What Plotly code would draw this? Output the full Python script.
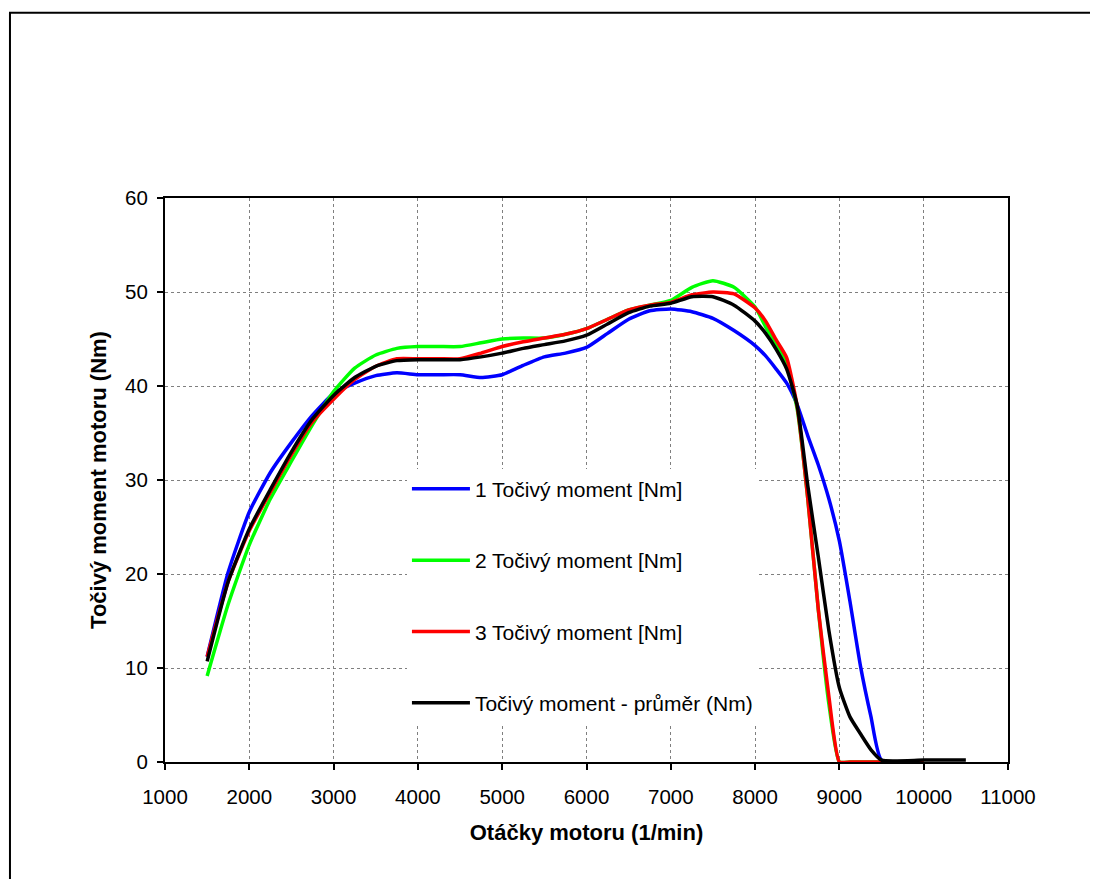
import plotly.graph_objects as go

rpm = [1500, 1750, 2000, 2250, 2500, 2750, 3000, 3250, 3500, 3750, 4000, 4250, 4500,
       4750, 5000, 5250, 5500, 5750, 6000, 6250, 6500, 6750, 7000, 7250, 7500, 7750,
       8000, 8125, 8250, 8375, 8500, 8625, 8750, 8875, 9000, 9125, 9250, 9375, 9500,
       10000, 10500]

torque_1 = [11.2, 20.2, 26.6, 30.8, 34.0, 36.9, 39.2, 40.3, 41.1, 41.4, 41.2, 41.2, 41.2,
            40.9, 41.2, 42.2, 43.1, 43.5, 44.1, 45.6, 47.1, 48.0, 48.2, 47.9, 47.2, 45.9,
            44.3, 43.2, 41.8, 40.3, 38.0, 34.7, 31.6, 28.0, 23.5, 17.1, 10.2, 4.8, 0.2,
            0.0, None]

torque_2 = [9.15, 16.8, 23.1, 28.0, 32.0, 35.9, 39.4, 41.9, 43.3, 44.0, 44.2, 44.2, 44.2,
            44.6, 45.0, 45.1, 45.1, 45.5, 46.1, 47.1, 48.1, 48.6, 49.1, 50.5, 51.2, 50.5,
            48.4, 46.3, 44.4, 42.3, 37.5, 28.0, 16.2, 6.2, 0.0, 0.0, 0.0, 0.0, 0.0,
            0.0, None]

torque_3 = [11.2, 19.2, 24.6, 28.7, 32.7, 36.2, 38.6, 40.7, 42.1, 42.9, 42.9, 42.9, 42.9,
            43.5, 44.2, 44.7, 45.1, 45.5, 46.1, 47.1, 48.1, 48.6, 48.9, 49.7, 50.0, 49.8,
            48.3, 46.9, 44.9, 43.0, 37.8, 28.0, 16.2, 7.0, 0.0, 0.0, 0.0, 0.0, 0.0,
            0.0, None]

torque_avg = [10.7, 19.2, 24.8, 29.0, 33.0, 36.5, 39.0, 40.9, 42.1, 42.7, 42.8, 42.8, 42.8,
              43.1, 43.5, 44.0, 44.4, 44.8, 45.4, 46.6, 47.8, 48.5, 48.8, 49.5, 49.5, 48.6,
              46.9, 45.6, 43.9, 41.8, 37.9, 29.4, 21.8, 14.0, 7.9, 4.8, 3.0, 1.3, 0.2,
              0.2, 0.2]

series_names = ["1 Točivý moment [Nm]", "2 Točivý moment [Nm]",
                "3 Točivý moment [Nm]", "Točivý moment - průměr (Nm)"]
series_colors = ["#0000FF", "#00FF00", "#FF0000", "#000000"]
series_values = [torque_1, torque_2, torque_3, torque_avg]

x_ticks = list(range(1000, 11001, 1000))
x_tick_labels = [str(v) for v in x_ticks]
y_ticks = list(range(0, 61, 10))
y_tick_labels = [str(v) for v in y_ticks]

FONT = "Liberation Sans, Arial, sans-serif"

fig = go.Figure()
for i, (name, col, vals) in enumerate(zip(series_names, series_colors, series_values)):
    fig.add_trace(go.Scatter(
        x=rpm, y=vals, mode="lines", name=name,
        line=dict(color=col, width=3.5, shape="spline", smoothing=0.5),
        legendgroup=f"g{i}",
        connectgaps=False,
    ))

axis_common = dict(
    showline=True, linecolor="black", linewidth=2, mirror=True,
    showgrid=True, gridcolor="#7f7f7f", griddash="dot", gridwidth=1,
    ticks="outside", ticklen=6, tickwidth=2, tickcolor="black",
    tickfont=dict(family=FONT, size=20.5, color="black"),
    zeroline=False,
)

fig.update_xaxes(range=[1000, 11000], tickvals=x_ticks, ticktext=x_tick_labels,
                 ticklabelstandoff=9,
                 title=dict(text="<b>Otáčky motoru (1/min)</b>",
                            font=dict(family=FONT, size=22, color="black"), standoff=18),
                 **axis_common)
fig.update_yaxes(range=[0, 60], tickvals=y_ticks, ticktext=y_tick_labels,
                 ticklabelstandoff=5,
                 title=dict(text="<b>Točivý moment motoru (Nm)</b>",
                            font=dict(family=FONT, size=22, color="black"), standoff=12),
                 **axis_common)

# outer frame of the chart
fig.add_shape(type="rect", xref="paper", yref="paper",
              x0=-0.1839, y0=1.3286, x1=1.2, y1=-0.3,
              line=dict(color="black", width=2), layer="above")

fig.update_layout(
    width=1090, height=871,
    margin=dict(l=157, r=90, t=190, b=117),
    paper_bgcolor="white", plot_bgcolor="white",
    showlegend=True,
    legend=dict(x=0.287, y=0.52, xanchor="left", yanchor="top",
                bgcolor="white", borderwidth=0,
                font=dict(family=FONT, size=21, color="black"),
                traceorder="grouped", tracegroupgap=41, itemwidth=58),
)

fig.write_html("out.html")
